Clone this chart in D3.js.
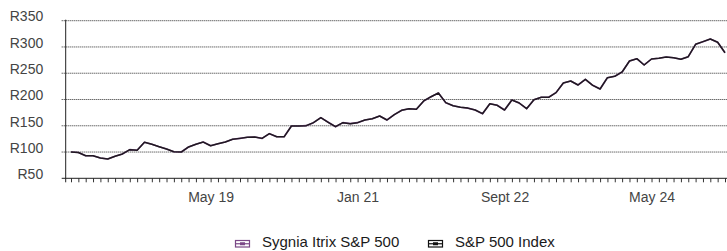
<!DOCTYPE html>
<html><head><meta charset="utf-8">
<script src="https://cdn.jsdelivr.net/npm/d3@7"></script>
<style>
body{margin:0;background:#fff}
svg{display:block}
text{font-family:"Liberation Sans",Arial,sans-serif}
</style>
</head><body>
<svg id="chart" width="727" height="251"></svg>
<script>
// ---- data ----
const months = d3.timeMonth.range(new Date(2017, 9, 1), new Date(2025, 3, 1)); // Oct 2017 .. Mar 2025
const sygniaValues = [100,99,93,93,88.6,86.7,91.9,96.3,104.5,103.3,118.5,114.7,110.2,105.8,100.6,100,109.6,114.7,119,112,
115.9,119,124.2,126,128,128.6,126,135,129.2,129,149.6,149.6,150.2,155.9,165.4,156.6,148.2,155.9,154,155.9,
161,163.5,168.6,161,171.1,179.5,182.5,181.3,197.2,205.3,212.4,194,188.2,185.2,183.6,180,173,192,189,180,
199,193.3,182.5,199.6,204.2,204.2,213,231.4,235.2,227.6,238.4,227,220,241.5,244.2,252.4,273.3,277.7,265.7,277.1,
278.4,280.9,279.6,276.5,281.5,305.1,310.1,315.2,308.9,289.1];
const sp500Values = [100,99,93,93,88.6,86.7,91.9,96.3,104.5,103.3,118.5,114.7,110.2,105.8,100.6,100,109.6,114.7,119,112,
115.9,119,124.2,126,128,128.6,126,135,129.2,129,149.6,149.6,150.2,155.9,165.4,156.6,148.2,155.9,154,155.9,
161,163.5,168.6,161,171.1,179.5,182.5,181.3,197.2,205.3,212.4,194,188.2,185.2,183.6,180,173,192,189,180,
199,193.3,182.5,199.6,204.2,204.2,213,231.4,235.2,227.6,238.4,227,220,241.5,244.2,252.4,273.3,277.7,265.7,277.1,
278.4,280.9,279.6,276.5,281.5,305.1,310.1,315.2,308.9,289.1];
const yTickValues = [50,100,150,200,250,300,350];
const xTickDates = [new Date(2019,4,1), new Date(2021,0,1), new Date(2022,8,1), new Date(2024,4,1)];
const xTickLabels = ["May 19","Jan 21","Sept 22","May 24"];
const seriesNames = ["Sygnia Itrix S&P 500","S&P 500 Index"];
const seriesColors = ["#7a4886","#111111"];

// ---- layout ----
const svg = d3.select("#chart");
const axisX0 = 65.7, plotRight = 727;
const x = d3.scalePoint().domain(months.map(d => +d)).range([71, 725]);
const y = d3.scaleLinear().domain([50, 350]).range([178.3, 20.7]);
const labelMap = new Map(xTickDates.map((d, i) => [+d, xTickLabels[i]]));
const FONT = '"Liberation Sans",Arial,sans-serif';

// gridlines
svg.append("g").selectAll("line").data(yTickValues.filter(v => v > 50)).join("line")
  .attr("x1", axisX0 - 4).attr("x2", plotRight)
  .attr("y1", d => y(d)).attr("y2", d => y(d))
  .attr("stroke", "#2a2a2a").attr("stroke-width", 1).attr("stroke-dasharray", "1,1");

// y axis
const yAxis = svg.append("g").attr("transform", `translate(${axisX0},0)`)
  .call(d3.axisLeft(y).tickValues(yTickValues).tickSize(0).tickFormat(d => "R" + d));
yAxis.select(".domain").remove();
yAxis.selectAll("text").attr("x", -22.5).attr("dy", "0.02em")
  .attr("fill", "#444").style("font-size", "14px").style("font-family", FONT);
svg.append("line").attr("x1", axisX0).attr("x2", axisX0).attr("y1", y(350) - 1).attr("y2", y(50) + 4)
  .attr("stroke", "#222").attr("stroke-width", 1);

// x axis
const xAxis = svg.append("g").attr("transform", `translate(0,${y(50)})`)
  .call(d3.axisBottom(x).tickValues(months.map(d => +d)).tickSize(4).tickSizeOuter(0)
    .tickFormat(d => labelMap.get(d) || ""));
xAxis.select(".domain").remove();
xAxis.selectAll(".tick line").attr("stroke", "#333");
xAxis.selectAll("text").attr("y", 24).attr("dy", 0)
  .attr("fill", "#444").style("font-size", "14px").style("font-family", FONT);
svg.append("line").attr("x1", axisX0 - 4).attr("x2", plotRight).attr("y1", y(50)).attr("y2", y(50))
  .attr("stroke", "#222").attr("stroke-width", 1);

// lines
const line = d3.line().x((d, i) => x(+months[i])).y(d => y(d));
svg.append("path").datum(sygniaValues).attr("d", line)
  .attr("fill", "none").attr("stroke", seriesColors[0]).attr("stroke-width", 1.6).attr("stroke-linejoin", "round");
svg.append("path").datum(sp500Values).attr("d", line)
  .attr("fill", "none").attr("stroke", seriesColors[1]).attr("stroke-width", 1.5).attr("stroke-opacity", 0.85).attr("stroke-linejoin", "round");

// legend
const legendX = [235, 428];
const legend = svg.append("g");
seriesNames.forEach((name, i) => {
  const g = legend.append("g").attr("transform", `translate(${legendX[i]},240)`);
  g.append("rect").attr("x", 0.5).attr("y", 0.5).attr("width", 14).attr("height", 6.5)
    .attr("fill", "#fff").attr("stroke", seriesColors[i]).attr("stroke-width", 1.2);
  g.append("line").attr("x1", 0.5).attr("x2", 14.5).attr("y1", 3.75).attr("y2", 3.75)
    .attr("stroke", seriesColors[i]).attr("stroke-width", 1.2);
  g.append("rect").attr("x", 5).attr("y", 2.25).attr("width", 5).attr("height", 3).attr("fill", seriesColors[i]);
  g.append("text").attr("x", 27).attr("y", 7).text(name)
    .attr("fill", "#1a1a1a").style("font-size", "15px").style("font-family", FONT);
});
</script>
</body></html>
